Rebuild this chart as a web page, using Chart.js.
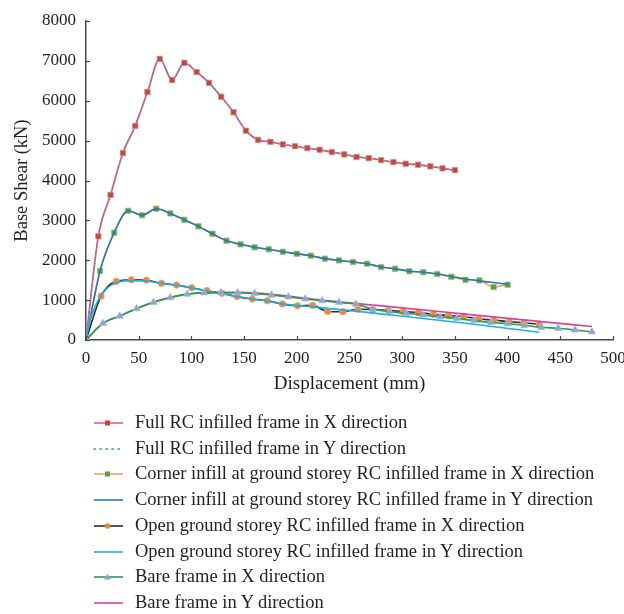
<!DOCTYPE html>
<html>
<head>
<meta charset="utf-8">
<script src="https://cdn.jsdelivr.net/npm/chart.js@4.4.1/dist/chart.umd.min.js"></script>
<style>
  html, body { margin: 0; padding: 0; background: #ffffff; }
  #wrap { position: relative; width: 624px; height: 614px; overflow: hidden; }
  #c { position: absolute; left: 0; top: 0; }
  #legend { position: absolute; left: 0; top: 410px; width: 624px; font-family: "Liberation Serif", serif; font-size: 18.5px; color: #231f20; }
  .row { position: absolute; left: 0; height: 26px; width: 624px; }
  .row svg { position: absolute; left: 90px; top: 8px; }
  .row span { position: absolute; left: 135px; top: 2px; white-space: nowrap; line-height: 21px; }
</style>
</head>
<body>
<div id="wrap">
  <canvas id="c" width="624" height="614"></canvas>
  <div id="legend"></div>
</div>
<script>
// Pushover curves: base shear (kN) against roof displacement (mm)

const fullDisp = [0, 11.7, 23.3, 35, 46.7, 58.3, 70, 81.7, 93.3, 105, 116.7, 128.3, 140, 151.7, 163.3, 175,
  186.7, 198.3, 210, 221.7, 233.3, 245, 256.7, 268.3, 280, 291.7, 303.3, 315, 326.7, 338.3, 350];
const fullXShear = [0, 2600, 3640, 4690, 5370, 6220, 7050, 6520, 6950, 6720, 6450, 6100, 5710, 5250, 5020, 4970,
  4905, 4860, 4812, 4770, 4712, 4655, 4590, 4560, 4510, 4460, 4420, 4395, 4355, 4305, 4260];
const fullYShear = [0, 2600, 3640, 4690, 5370, 6220, 7050, 6520, 6950, 6720, 6450, 6100, 5710, 5250, 5020, 4970,
  4905, 4860, 4812, 4770, 4712, 4655, 4590, 4560, 4510, 4460, 4420, 4395, 4355, 4305, 4260];

const cornerDisp = [0, 13.3, 26.7, 40, 53.3, 66.7, 80, 93.3, 106.7, 120, 133.3, 146.7, 160, 173.3, 186.7, 200,
  213.3, 226.7, 240, 253.3, 266.7, 280, 293.3, 306.7, 320, 333.3, 346.7, 360, 373.3, 386.7, 400];
const cornerXShear = [0, 1730, 2690, 3240, 3130, 3290, 3175, 3015, 2850, 2665, 2490, 2400, 2325, 2275, 2213, 2163,
  2113, 2040, 1997, 1955, 1912, 1830, 1787, 1725, 1700, 1654, 1585, 1510, 1494, 1328, 1387];
const cornerYShear = [0, 1730, 2690, 3240, 3130, 3290, 3175, 3015, 2850, 2665, 2490, 2400, 2325, 2275, 2213, 2163,
  2113, 2040, 1997, 1955, 1912, 1830, 1787, 1725, 1700, 1654, 1590, 1530, 1482, 1440, 1395];

const openXDisp = [0, 14.3, 28.7, 43, 57.3, 71.7, 86, 100.3, 114.7, 129, 143.3, 157.7, 172, 186.3, 200.7, 215,
  229.3, 243.7, 258, 272.3, 286.7, 301, 315.3, 329.7, 344, 358.3, 372.7, 387, 401.3, 415.7, 430];
const openXShear = [0, 1100, 1470, 1510, 1500, 1420, 1378, 1310, 1237, 1170, 1088, 1028, 983, 905, 858, 868,
  715, 710, 772, 765, 742, 711, 686, 645, 610, 588, 526, 501, 460, 434, 393];
const openYDisp = [0, 4, 8.5, 14, 20, 29, 42, 57, 72, 86, 100, 114, 129, 143, 158, 172, 186, 200, 215, 290, 360, 430];
const openYShear = [0, 500, 830, 1120, 1300, 1440, 1490, 1480, 1420, 1370, 1305, 1235, 1165, 1090, 1025, 975,
  905, 862, 830, 625, 420, 195];

const bareXDisp = [0, 16, 32, 48, 64, 80, 96, 112, 128, 144, 160, 176, 192, 208, 224, 240,
  256, 272, 288, 304, 320, 336, 352, 368, 384, 400, 416, 432, 448, 464, 480];
const bareXShear = [0, 417, 601, 785, 945, 1060, 1150, 1182, 1186, 1186, 1170, 1127, 1082, 1032, 985, 940,
  900, 780, 710, 668, 630, 580, 540, 485, 440, 408, 368, 318, 293, 251, 205];
const bareYDisp = [0, 16, 32, 48, 64, 80, 96, 112, 128, 144, 160, 176, 192, 208, 224, 300, 360, 420, 480];
const bareYShear = [0, 420, 605, 790, 950, 1070, 1152, 1185, 1195, 1195, 1182, 1145, 1100, 1050, 1000, 805, 648, 492, 337];

const seriesLabels = [
  'Full RC infilled frame in X direction',
  'Full RC infilled frame in Y direction',
  'Corner infill at ground storey RC infilled frame in X direction',
  'Corner infill at ground storey RC infilled frame in Y direction',
  'Open ground storey RC infilled frame in X direction',
  'Open ground storey RC infilled frame in Y direction',
  'Bare frame in X direction',
  'Bare frame in Y direction'
];

const xTicks = [0, 50, 100, 150, 200, 250, 300, 350, 400, 450, 500];
const yTicks = [0, 1000, 2000, 3000, 4000, 5000, 6000, 7000, 8000];

const axisColor = '#4a4a4a';
const textColor = '#231f20';
const serif = '"Liberation Serif", "Times New Roman", serif';

function pts(xs, ys) { return xs.map((x, i) => ({ x: x, y: ys[i] })); }

// line / marker styling per series (same order as the labels)
const styles = [
  { line: '#df5aa1', width: 1.8, dash: [], marker: 'rect', fill: '#c9403d', edge: '#e58a8a', r: 3.8 },
  { line: '#35a86c', width: 1.2, dash: [1, 4.5], marker: false },
  { line: '#f3a35f', width: 1.6, dash: [], marker: 'rect', fill: '#5d9f3a', edge: '#93c77a', r: 3.8 },
  { line: '#2a78b8', width: 1.6, dash: [], marker: false },
  { line: '#2b2b2b', width: 1.6, dash: [], marker: 'circle', fill: '#f0863a', edge: '#f5ab78', r: 3.3 },
  { line: '#1db0e6', width: 1.6, dash: [], marker: false },
  { line: '#21a14a', width: 1.6, dash: [], marker: 'triangle', fill: '#8ea3cf', edge: '#a9b8da', r: 4.2 },
  { line: '#d8449b', width: 1.6, dash: [], marker: false }
];

const seriesData = [
  pts(fullDisp, fullXShear),
  pts(fullDisp, fullYShear),
  pts(cornerDisp, cornerXShear),
  pts(cornerDisp, cornerYShear),
  pts(openXDisp, openXShear),
  pts(openYDisp, openYShear),
  pts(bareXDisp, bareXShear),
  pts(bareYDisp, bareYShear)
];

// stacking order: lower value drawn later (on top)
const drawOrder = [8, 7, 6, 5, 4, 3, 1, 2];

const datasets = seriesData.map((d, i) => {
  const s = styles[i];
  return {
    label: seriesLabels[i],
    data: d,
    order: drawOrder[i],
    borderColor: s.line,
    borderWidth: s.width,
    borderDash: s.dash,
    borderCapStyle: s.dash.length ? 'round' : 'butt',
    cubicInterpolationMode: 'monotone',
    pointStyle: s.marker || 'circle',
    pointRadius: s.marker ? s.r : 0,
    pointHoverRadius: s.marker ? s.r : 0,
    pointBackgroundColor: s.fill || s.line,
    pointBorderColor: s.edge || s.line,
    pointBorderWidth: 0.8,
    fill: false
  };
});

// short tick marks on the inner side of both axes
const innerTicks = {
  id: 'innerTicks',
  afterDraw(chart) {
    const { ctx, chartArea, scales } = chart;
    ctx.save();
    ctx.strokeStyle = axisColor;
    ctx.lineWidth = 1.2;
    scales.x.ticks.forEach(t => {
      const px = Math.round(scales.x.getPixelForValue(t.value)) + 0.5;
      ctx.beginPath();
      ctx.moveTo(px, chartArea.bottom);
      ctx.lineTo(px, chartArea.bottom - 4);
      ctx.stroke();
    });
    scales.y.ticks.forEach(t => {
      const py = Math.round(scales.y.getPixelForValue(t.value)) + 0.5;
      ctx.beginPath();
      ctx.moveTo(chartArea.left, py);
      ctx.lineTo(chartArea.left + 4, py);
      ctx.stroke();
    });
    ctx.restore();
  }
};

new Chart(document.getElementById('c'), {
  type: 'line',
  data: { datasets: datasets },
  plugins: [innerTicks],
  options: {
    responsive: false,
    animation: false,
    events: [],
    layout: { padding: { top: 21, right: 11, bottom: 214, left: 0 } },
    plugins: { legend: { display: false }, tooltip: { enabled: false } },
    scales: {
      x: {
        type: 'linear',
        min: 0, max: 500,
        afterBuildTicks: s => { s.ticks = xTicks.map(v => ({ value: v })); },
        // fixed band height; the last label may run past the right edge
        afterFit: s => { s.height = 60; s.paddingRight = 0; s.paddingLeft = 0; },
        grid: { display: false, drawTicks: false },
        border: { display: true, color: axisColor, width: 1.5 },
        ticks: { color: textColor, padding: 8, font: { family: serif, size: 17 }, maxRotation: 0, callback: v => String(v) },
        title: { display: true, text: 'Displacement (mm)', color: textColor, font: { family: serif, size: 19 }, padding: { top: 0, bottom: 5 } }
      },
      y: {
        type: 'linear',
        min: 0, max: 8000,
        afterBuildTicks: s => { s.ticks = yTicks.map(v => ({ value: v })); },
        afterFit: s => { s.width = 86; s.paddingTop = 0; s.paddingBottom = 0; },
        grid: { display: false, drawTicks: false },
        border: { display: true, color: axisColor, width: 1.5 },
        ticks: { color: textColor, padding: 10, font: { family: serif, size: 17 }, callback: v => String(v) },
        title: { display: true, text: 'Base Shear (kN)', color: textColor, font: { family: serif, size: 18.5 }, padding: { top: 11, bottom: 0 } }
      }
    }
  }
});

// legend rows: line sample with its marker, then the series name
const legend = document.getElementById('legend');
seriesLabels.forEach((name, i) => {
  const s = styles[i];
  const row = document.createElement('div');
  row.className = 'row';
  row.style.top = (i * 25.7) + 'px';
  let mark = '';
  if (s.marker === 'rect') mark = `<rect x="15" y="2.5" width="5" height="5" fill="${s.fill}"/>`;
  if (s.marker === 'circle') mark = `<circle cx="17.5" cy="5" r="2.8" fill="${s.fill}"/>`;
  if (s.marker === 'triangle') mark = `<polygon points="17.5,1.8 21,7.6 14,7.6" fill="${s.fill}"/>`;
  const dash = s.dash.length ? `stroke-dasharray="1.5 4.5" stroke-linecap="round"` : '';
  row.innerHTML = `<svg width="36" height="10" viewBox="0 0 36 10">
      <line x1="4" y1="5" x2="33" y2="5" stroke="${s.line}" stroke-width="1.6" ${dash}/>${mark}</svg>
    <span>${name}</span>`;
  legend.appendChild(row);
});
</script>
</body>
</html>
